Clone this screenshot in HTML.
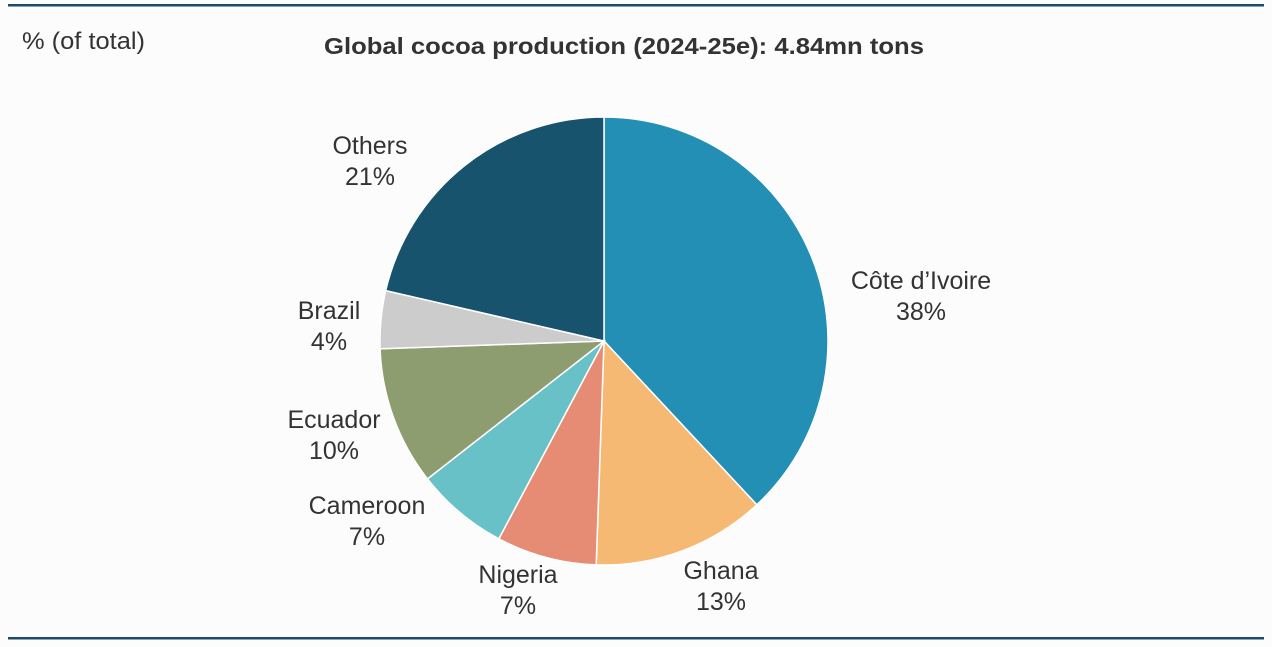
<!DOCTYPE html>
<html><head><meta charset="utf-8"><style>
body{margin:0;background:#fff;}
svg{display:block;font-family:"Liberation Sans",Arial,sans-serif;}
</style></head><body>
<svg width="1272" height="647" viewBox="0 0 1272 647">
<rect x="0" y="0" width="1272" height="647" fill="#fcfcfc"/>
<rect x="8" y="4" width="1256" height="2.5" fill="#1b4a6b"/>
<rect x="8" y="637" width="1256" height="2.5" fill="#1b4a6b"/>
<text x="22" y="49" font-size="24" fill="#333" textLength="123" lengthAdjust="spacingAndGlyphs">% (of total)</text>
<text x="324" y="54" font-size="23" font-weight="bold" fill="#333" textLength="600" lengthAdjust="spacingAndGlyphs">Global cocoa production (2024-25e): 4.84mn tons</text>
<g stroke="#fff" stroke-width="1.5">
<path d="M604,341 L604,117 A224,224 0 0 1 756.8,504.8 Z" fill="#238fb5"/>
<path d="M604,341 L756.8,504.8 A224,224 0 0 1 596.2,564.9 Z" fill="#f5b974"/>
<path d="M604,341 L596.2,564.9 A224,224 0 0 1 498.8,538.8 Z" fill="#e68c75"/>
<path d="M604,341 L498.8,538.8 A224,224 0 0 1 427.5,478.9 Z" fill="#67c1c6"/>
<path d="M604,341 L427.5,478.9 A224,224 0 0 1 380.1,348.8 Z" fill="#8e9d70"/>
<path d="M604,341 L380.1,348.8 A224,224 0 0 1 385.7,290.6 Z" fill="#cccccc"/>
<path d="M604,341 L385.7,290.6 A224,224 0 0 1 604,117 Z" fill="#17536c"/>
</g>
<g font-size="25" fill="#333" text-anchor="middle">
<text x="370" y="154">Others</text><text x="370" y="185">21%</text>
<text x="921" y="289">Côte d’Ivoire</text><text x="921" y="320">38%</text>
<text x="329" y="319">Brazil</text><text x="329" y="350">4%</text>
<text x="334" y="428">Ecuador</text><text x="334" y="459">10%</text>
<text x="367" y="514">Cameroon</text><text x="367" y="545">7%</text>
<text x="518" y="583">Nigeria</text><text x="518" y="614">7%</text>
<text x="721" y="579">Ghana</text><text x="721" y="610">13%</text>
</g>
</svg>
</body></html>
